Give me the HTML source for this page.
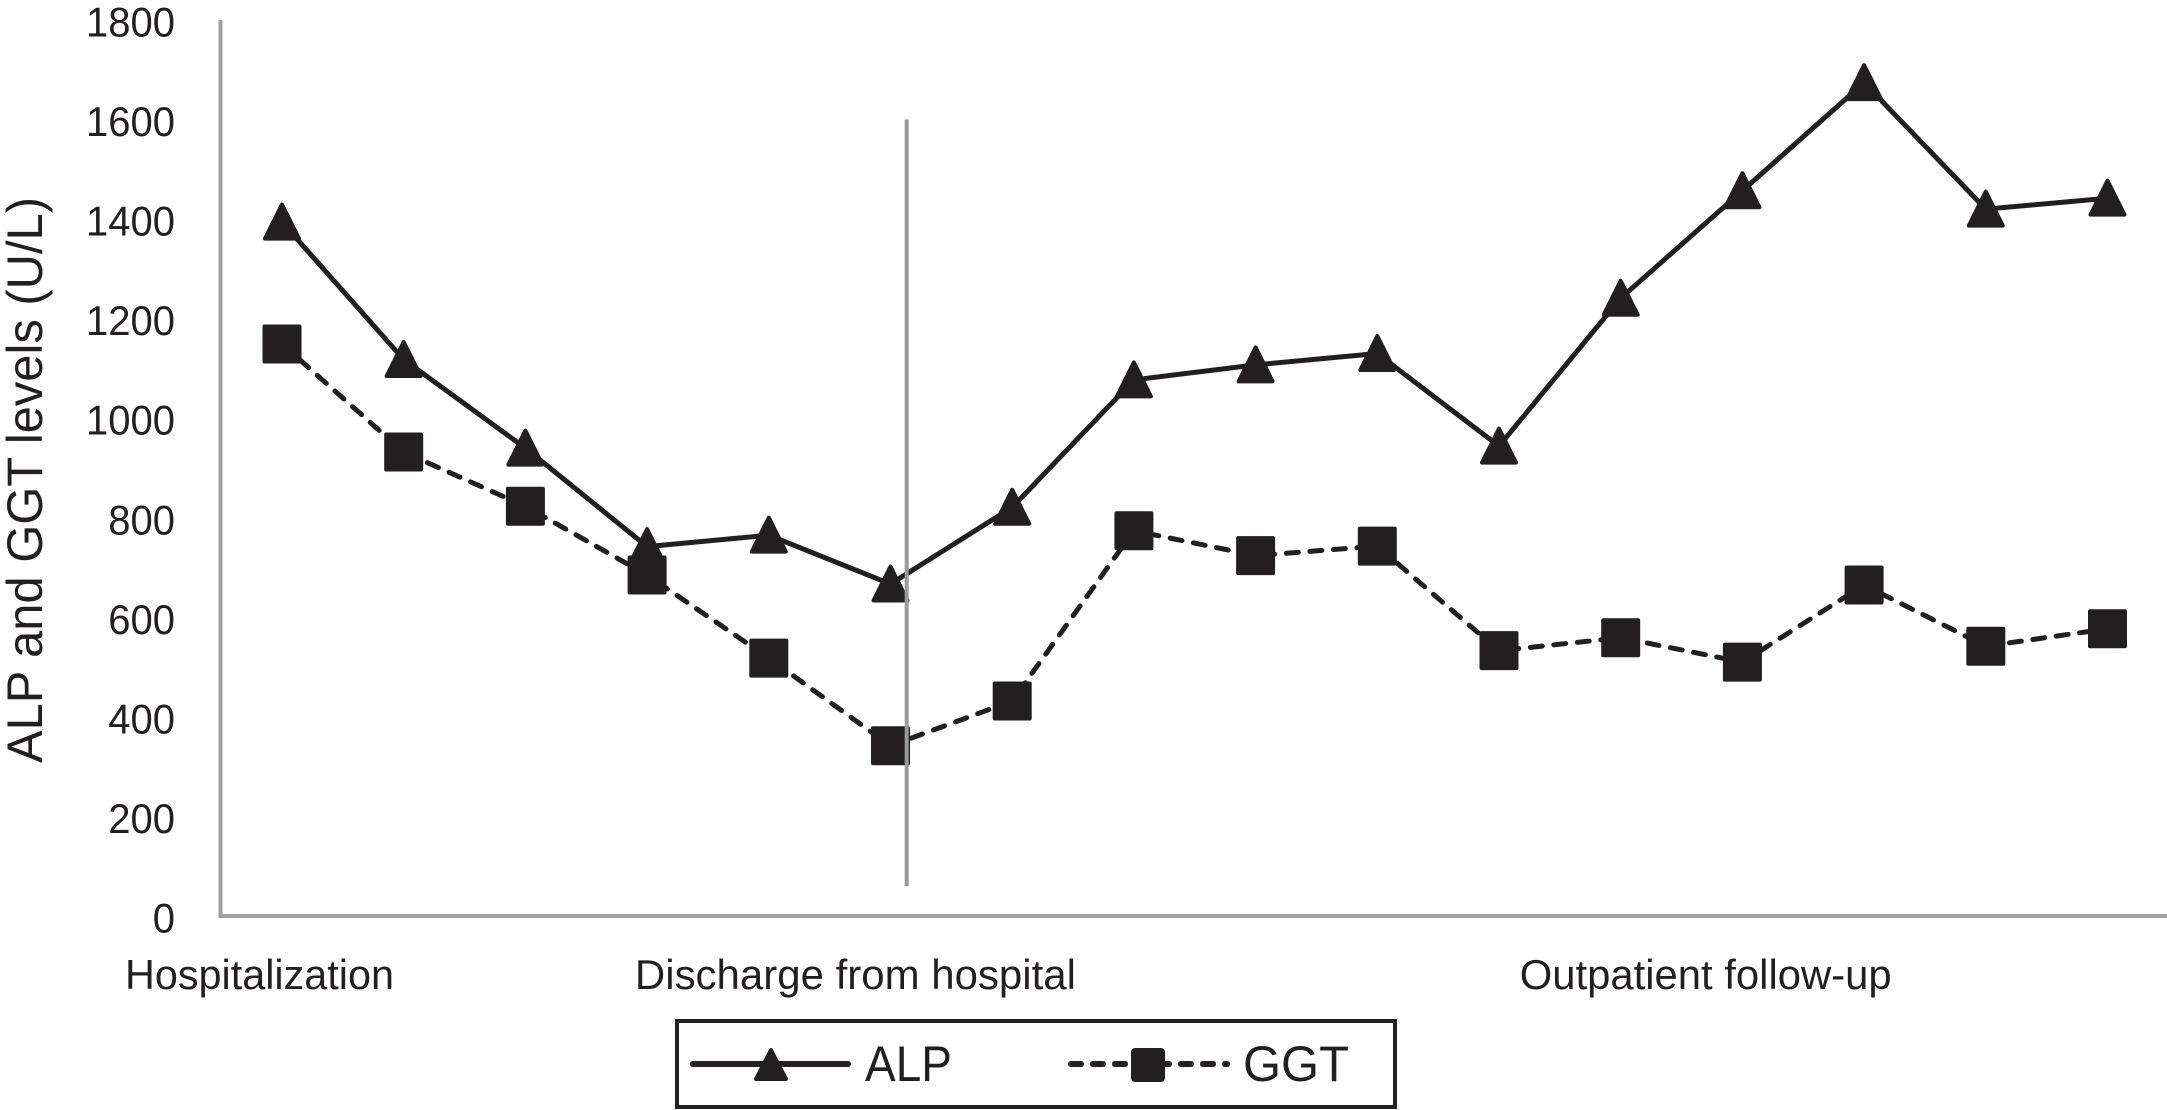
<!DOCTYPE html>
<html lang="en">
<head>
<meta charset="utf-8">
<title>ALP and GGT levels</title>
<style>
html,body{margin:0;padding:0;background:#fff;width:2167px;height:1110px;overflow:hidden}
svg{display:block}
text{font-family:"Liberation Sans",sans-serif;fill:#231f20}
</style>
</head>
<body>
<svg id="chart" xmlns="http://www.w3.org/2000/svg" width="2167" height="1110" viewBox="0 0 2167 1110">
  <rect x="0" y="0" width="2167" height="1110" fill="#fff"/>
  <text transform="translate(42,763) rotate(-90)" font-size="50" textLength="566" lengthAdjust="spacingAndGlyphs">ALP and GGT levels (U/L)</text>
  <g id="axes"></g>
  <g id="series"></g>
  <g id="annotations"></g>
  <g>
    <rect x="677" y="1021" width="718" height="86" fill="#fff" stroke="#231f20" stroke-width="4"/>
    <g>
      <line x1="693" y1="1064" x2="848" y2="1064" stroke="#231f20" stroke-width="6" stroke-linecap="round"/>
      <polygon points="771,1050 786,1079 756,1079" fill="#231f20" stroke="#231f20" stroke-width="4" stroke-linejoin="round"/>
      <text x="865" y="1081" font-size="50" textLength="87" lengthAdjust="spacingAndGlyphs">ALP</text>
    </g>
    <g>
      <line x1="1071" y1="1064" x2="1227" y2="1064" stroke="#231f20" stroke-width="6" stroke-linecap="round" stroke-dasharray="10 12"/>
      <rect x="1133" y="1050" width="30" height="30" rx="2" fill="#231f20" stroke="#231f20" stroke-width="4" stroke-linejoin="round"/>
      <text x="1243" y="1081" font-size="50" textLength="106" lengthAdjust="spacingAndGlyphs">GGT</text>
    </g>
  </g>
</svg>
<script>
var alpValues = [1394, 1118, 940, 742, 765, 667, 821, 1077, 1107, 1130, 944, 1241, 1457, 1674, 1420, 1442];
var ggtValues = [1149, 932, 823, 685, 518, 342, 432, 774, 724, 743, 533, 559, 510, 665, 542, 577];
var yTickLabels = [0, 200, 400, 600, 800, 1000, 1200, 1400, 1600, 1800];
var phaseLabels = ["Hospitalization", "Discharge from hospital", "Outpatient follow-up"];
var phaseStartIndex = [-1.29, 2.9, 10.17];
var phaseLabelWidth = [269, 441, 372];
var dischargeIndex = 5.133;
var dischargeTopValue = 1600;
var dischargeBottomValue = 60;

var NS = 'http://www.w3.org/2000/svg';
var INK = '#231f20';
var GREY = '#a0a0a0';
function xScale(i) { return 282 + i * 121.7; }
function yScale(v) { return 916 - v * 0.4978; }
function make(tag, attrs, parent) {
  var el = document.createElementNS(NS, tag);
  for (var k in attrs) el.setAttribute(k, attrs[k]);
  parent.appendChild(el);
  return el;
}
var axes = document.getElementById('axes');
var seriesG = document.getElementById('series');
var notes = document.getElementById('annotations');

var yAxis = make('line', {x1: 220.5, y1: yScale(1800), x2: 220.5, y2: 918, stroke: GREY, 'stroke-width': 4}, axes);


var xAxis = make('line', {x1: 218.5, y1: 916, x2: 2167, y2: 916, stroke: GREY, 'stroke-width': 4}, axes);



yTickLabels.forEach(function (t) {
  var label = make('text', {x: 175, y: yScale(t) + 16.5, 'font-size': 42, 'text-anchor': 'end', textLength: String(t).length * 22.25, lengthAdjust: 'spacingAndGlyphs'}, axes);
  
  
  label.textContent = t;
});

phaseLabels.forEach(function (t, i) {
  var label = make('text', {x: xScale(phaseStartIndex[i]), y: 989, 'font-size': 42, textLength: phaseLabelWidth[i], lengthAdjust: 'spacingAndGlyphs'}, axes);
  
  
  label.textContent = t;
});

function linePath(values) {
  return values.map(function (v, i) {
    return (i ? 'L' : 'M') + xScale(i).toFixed(1) + ' ' + yScale(v).toFixed(1);
  }).join(' ');
}

var ggtLine = make('path', {d: linePath(ggtValues), fill: 'none', stroke: INK, 'stroke-width': 5, 'stroke-linecap': 'round', 'stroke-linejoin': 'round', 'stroke-dasharray': '12 11.6'}, seriesG);


var alpLine = make('path', {d: linePath(alpValues), fill: 'none', stroke: INK, 'stroke-width': 5, 'stroke-linejoin': 'round'}, seriesG);



alpValues.forEach(function (v, i) {
  var cx = xScale(i), cy = yScale(v);
  var pts = [cx, cy - 17.5, cx + 17, cy + 16.5, cx - 17, cy + 16.5].join(' ');
  var m = make('polygon', {points: pts, fill: INK, stroke: INK, 'stroke-width': 4, 'stroke-linejoin': 'round'}, seriesG);
  
  
});
ggtValues.forEach(function (v, i) {
  var cx = xScale(i), cy = yScale(v);
  var m = make('rect', {x: cx - 17.5, y: cy - 17.5, width: 35, height: 35, fill: INK, stroke: INK, 'stroke-width': 4, 'stroke-linejoin': 'round'}, seriesG);
  
  
});

var dischargeLine = make('line', {x1: xScale(dischargeIndex), y1: yScale(dischargeTopValue), x2: xScale(dischargeIndex), y2: yScale(dischargeBottomValue), stroke: '#999', 'stroke-width': 4}, notes);


</script>
</body>
</html>
